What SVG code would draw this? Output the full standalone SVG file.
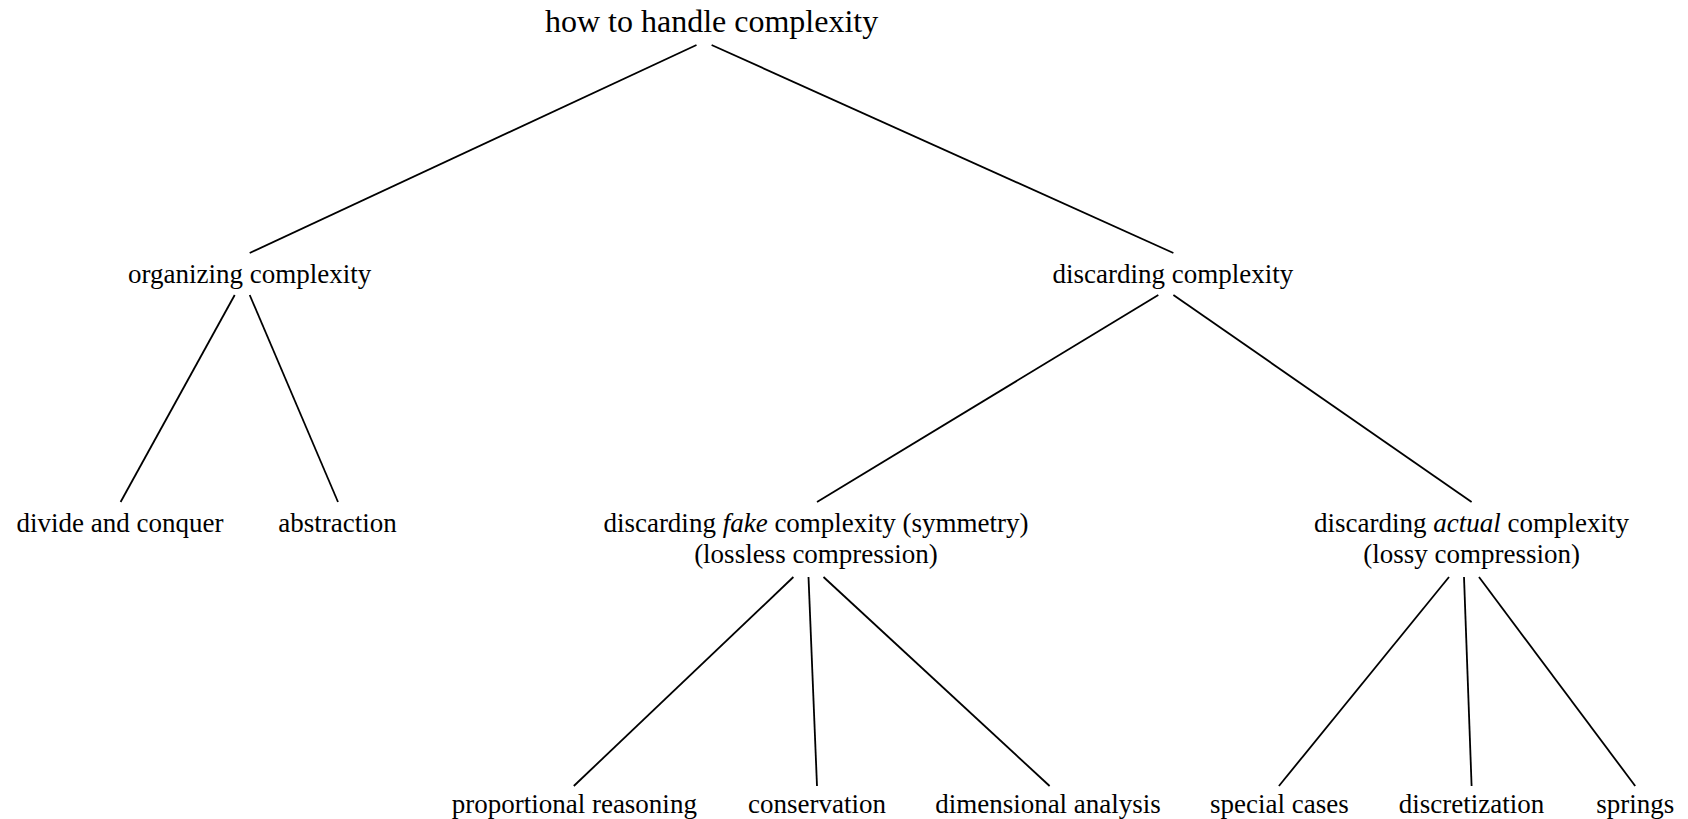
<svg xmlns="http://www.w3.org/2000/svg" width="1688" height="819" viewBox="0 0 1688 819">
<style>
text{font-family:"Liberation Serif","DejaVu Serif",serif;font-size:27px;fill:#000;text-anchor:middle}
.title{font-size:32px}
.it{font-style:italic}
#edges line{stroke:#000;stroke-width:1.8;fill:none}
</style>
<rect width="1688" height="819" fill="#fff"/>
<g id="edges">
<line x1="696.5" y1="45" x2="249.7" y2="253"/>
<line x1="711.6" y1="45" x2="1173.4" y2="253"/>
<line x1="234.7" y1="295" x2="120.6" y2="502"/>
<line x1="249.7" y1="295" x2="338" y2="502"/>
<line x1="1158.3" y1="295" x2="817" y2="502"/>
<line x1="1173.4" y1="295" x2="1471.6" y2="502"/>
<line x1="793.4" y1="577" x2="573.8" y2="786"/>
<line x1="808.5" y1="577" x2="817" y2="786"/>
<line x1="823.5" y1="577" x2="1049.6" y2="786"/>
<line x1="1449" y1="577" x2="1278.9" y2="786"/>
<line x1="1464" y1="577" x2="1471.6" y2="786"/>
<line x1="1479" y1="577" x2="1635.2" y2="786"/>
</g>
<g id="root"><text class="title" x="711.6" y="32">how to handle complexity</text></g>
<g id="organizing"><text x="249.7" y="283">organizing complexity</text></g>
<g id="discarding"><text x="1172.9" y="283">discarding complexity</text></g>
<g id="divide"><text x="120" y="532">divide and conquer</text></g>
<g id="abstraction"><text x="337.5" y="532">abstraction</text></g>
<g id="fake"><text x="816" y="532">discarding <tspan class="it">fake</tspan> complexity (symmetry)</text><text x="816" y="563">(lossless compression)</text></g>
<g id="actual"><text x="1471.6" y="532">discarding <tspan class="it">actual</tspan> complexity</text><text x="1471.6" y="563">(lossy compression)</text></g>
<g id="proportional"><text x="574.3" y="813">proportional reasoning</text></g>
<g id="conservation"><text x="817" y="813">conservation</text></g>
<g id="dimensional"><text x="1048" y="813">dimensional analysis</text></g>
<g id="special"><text x="1279.4" y="813">special cases</text></g>
<g id="discretization"><text x="1471.6" y="813">discretization</text></g>
<g id="springs"><text x="1635.2" y="813">springs</text></g>
</svg>
